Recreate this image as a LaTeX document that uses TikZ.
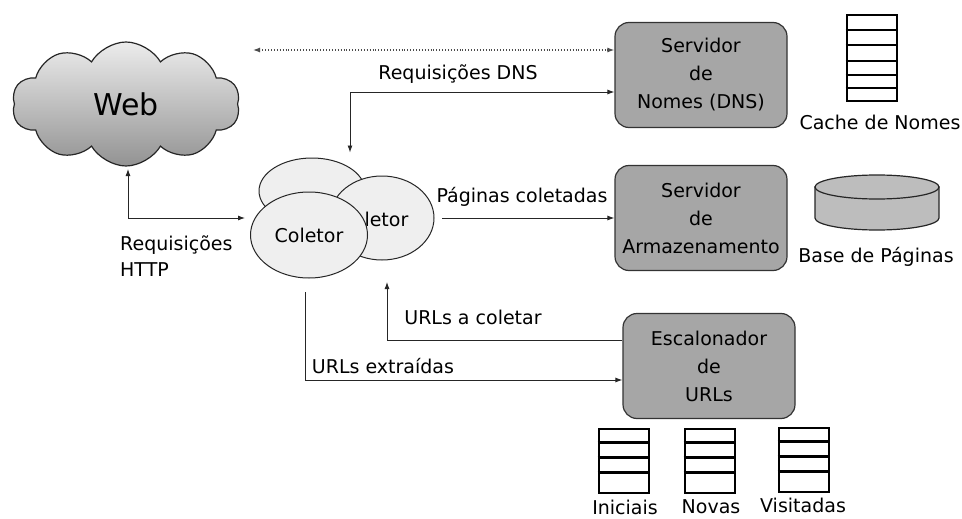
\documentclass[tikz,border=0pt]{standalone}
\usepackage{fontspec}
\setmainfont{DejaVu Sans}
\usetikzlibrary{shapes.symbols,shapes.geometric,arrows.meta,calc}
\definecolor{boxgray}{HTML}{A6A6A6}
\definecolor{ellgray}{HTML}{EFEFEF}
\definecolor{cylgray}{HTML}{BDBDBD}
\tikzset{
  every node/.style={font=\fontsize{19}{28}\selectfont, inner sep=0pt},
  server/.style={draw=black!80, line width=1.2pt, fill=boxgray, rounded corners=14pt,
     minimum width=172pt, minimum height=105pt, align=center},
  coll/.style={draw=black!85, line width=1pt, fill=ellgray, ellipse},
  conn/.style={line width=0.9pt, draw=black!85},
  tip/.style={-{Latex[length=7pt,width=5pt]}},
  stackbox/.style={draw=black, line width=2.6pt, minimum width=50pt, inner sep=0pt},
  lbl/.style={font=\fontsize{19}{26}\selectfont},
  cyl/.style={draw=black!85, line width=1.2pt, fill=cylgray}
}
\begin{document}
\begin{tikzpicture}[x=1pt,y=-1pt]
\useasboundingbox (0,0) rectangle (962,519);
\fill[white] (0,0) rectangle (962,519);

% Web cloud
\node[cloud, cloud puffs=10, cloud puff arc=120, aspect=2.2, draw=black!85, line width=1.2pt,
  top color=gray!15, bottom color=gray!85, minimum width=228pt, minimum height=124pt] (web) at (126,104) {};
\node[font=\fontsize{30}{30}\selectfont] (webt) at (126,104) {Web};

% Servers
\node[server] (dns) at (701,75) {Servidor\\de\\Nomes (DNS)};
\node[server] (arm) at (701,218) {Servidor\\de\\Armazenamento};
\node[server] (esc) at (709,366) {Escalonador\\de\\URLs};

% Collectors
\node[coll, minimum width=106pt, minimum height=66pt] (c1) at (312,191) {};
\node[coll, minimum width=104pt, minimum height=84pt] (c2) at (382,218) {};
\node (c2t) at (374,219) {Coletor};
\node[coll, minimum width=117pt, minimum height=86pt] (c3) at (309,235) {Coletor};

% Cache de Nomes stack
\node[stackbox, minimum height=86pt] (cache) at (872,58) {};
\foreach \yy in {30,45,61,75,88} \draw[line width=2.6pt] (cache.west |- 0,\yy) -- (cache.east |- 0,\yy);
\node[lbl] (cachel) at (880,122) {Cache de Nomes};

% Base de Paginas cylinder
\coordinate (cyltop) at (877,187);
\draw[cyl] (815,187) -- (815,218) arc[start angle=180, end angle=0, x radius=62, y radius=12] -- (939,187) -- cycle;
\draw[cyl] (cyltop) ellipse[x radius=62, y radius=12];
\node[lbl] (basel) at (876,257) {Base de Páginas};

% URL stacks
\node[stackbox, minimum height=64pt] (ini) at (624,461) {};
\node[stackbox, minimum height=64pt] (nov) at (710,461) {};
\node[stackbox, minimum height=64pt] (vis) at (804,460) {};
\foreach \n in {ini,nov,vis}{
  \foreach \f in {0.22,0.45,0.67}
    \draw[line width=2.6pt] ($(\n.north west)!\f!(\n.south west)$) -- ($(\n.north east)!\f!(\n.south east)$);
}
\node[lbl] (inil) at (625,507) {Iniciais};
\node[lbl] (novl) at (711,507) {Novas};
\node[lbl] (visl) at (803,505) {Visitadas};

% Connectors
\coordinate (dotl) at (253,50);
\draw[conn, dotted, line width=1.2pt, draw=black!70, {Latex[length=7pt,width=5pt]}-{Latex[length=7pt,width=5pt]}] (dotl) -- (dotl -| dns.west);

\coordinate (dnsbend) at (350,92);
\draw[conn, {Latex[length=7pt,width=5pt]}-{Latex[length=7pt,width=5pt]}] (dnsbend |- c1.north) ++(0,-5) -- (dnsbend) -- (dnsbend -| dns.west);
\node[lbl] (dnsl) at (458,74) {Requisições DNS};

\coordinate (httpbend) at (128,218);
\draw[conn, {Latex[length=7pt,width=5pt]}-{Latex[length=7pt,width=5pt]}] (128,169) -- (httpbend) -- (245,218);
\node[lbl, align=left, anchor=north west] (httpl) at (120,236) {Requisições\\HTTP};

\draw[conn, tip] (442,218) -- (arm.west |- 0,218);
\node[lbl] (pagl) at (522,197) {Páginas coletadas};

\coordinate (acol) at (387,340);
\draw[conn, tip] (esc.west |- acol) -- (acol) -- (387,282);
\node[lbl] (acoll) at (473,317) {URLs a coletar};

\coordinate (extr) at (305,380);
\draw[conn, tip] (305,292) -- (extr) -- (esc.west |- extr);
\node[lbl] (extrl) at (383,366) {URLs extraídas};
\end{tikzpicture}
\end{document}
